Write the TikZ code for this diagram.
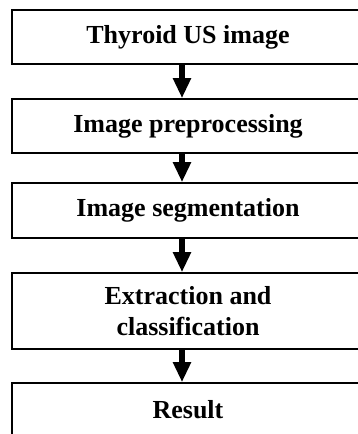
\documentclass[tikz,border=0pt]{standalone}
\usepackage{fontspec}
\setmainfont{Liberation Serif}
\usetikzlibrary{arrows.meta}

\begin{document}
\begin{tikzpicture}[x=1pt, y=-1pt,
    stagebox/.style={draw, line width=1.6pt, minimum width=352pt, inner sep=0pt, align=center, font=\fontsize{26}{31}\selectfont\bfseries},
    flowarrow/.style={-{Triangle[width=17pt, length=20pt]}, line width=6pt}]
    \useasboundingbox (0,0) rectangle (358,434);
    \node [stagebox, minimum height=54pt] (usimage) at (188,37) {Thyroid US image};
    \node [stagebox, minimum height=54pt] (preproc) at (188,126) {Image preprocessing};
    \node [stagebox, minimum height=55pt] (segment) at (188,210.5) {Image segmentation};
    \node [stagebox, minimum height=76pt] (classify) at (188,311) {Extraction and\\classification};
    \node [stagebox, minimum height=54pt] (result) at (188,410) {Result};
    \draw [flowarrow] ([xshift=-6pt]usimage.south) -- ([xshift=-6pt]preproc.north);
    \draw [flowarrow] ([xshift=-6pt]preproc.south) -- ([xshift=-6pt]segment.north);
    \draw [flowarrow] ([xshift=-6pt]segment.south) -- ([xshift=-6pt]classify.north);
    \draw [flowarrow] ([xshift=-6pt]classify.south) -- ([xshift=-6pt]result.north);
\end{tikzpicture}
\end{document}
